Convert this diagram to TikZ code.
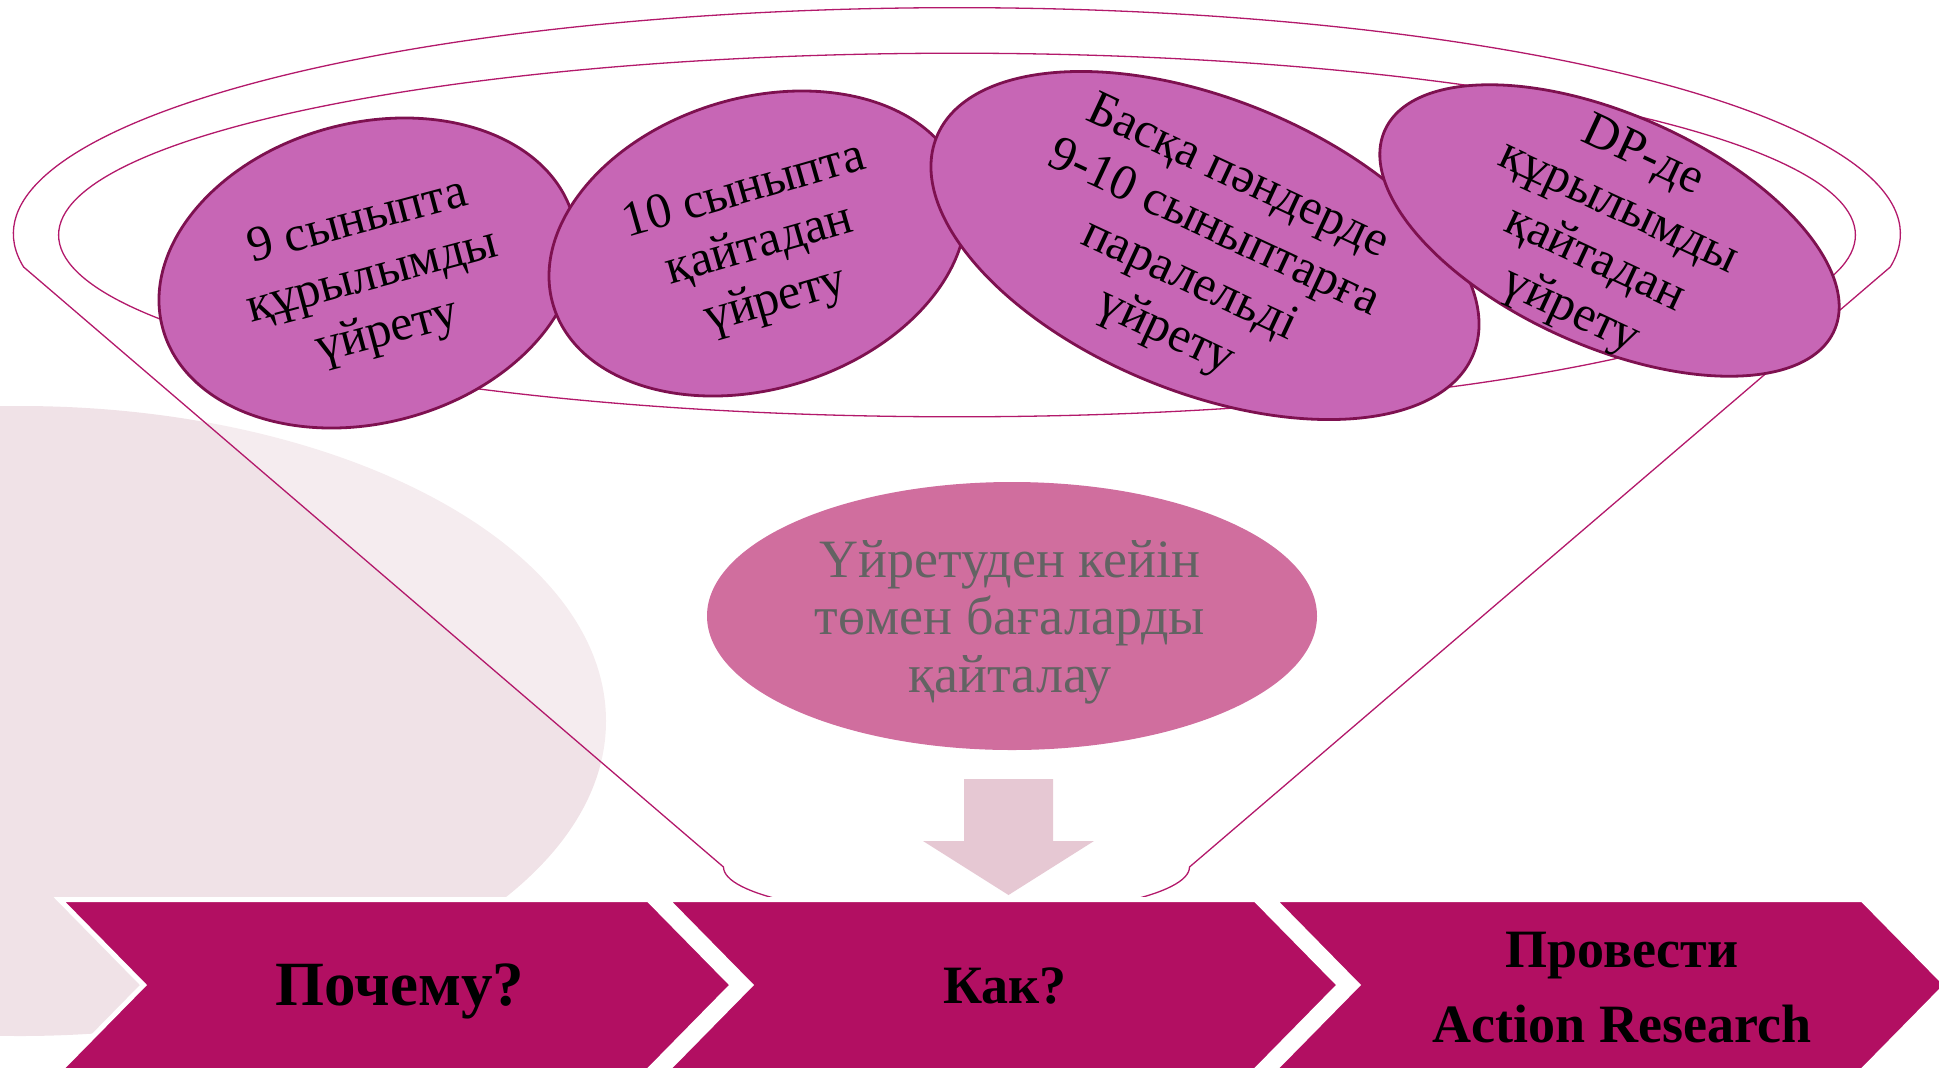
\documentclass[tikz,border=0pt]{standalone}
\usepackage{fontspec}
\setmainfont{Liberation Serif}
\usetikzlibrary{shapes.geometric}

\definecolor{chevpink}{HTML}{B20F62}
\definecolor{funnelred}{HTML}{B3196B}
\definecolor{bubblefill}{HTML}{C766B5}
\definecolor{bubbleedge}{HTML}{7E1150}
\definecolor{centrefill}{HTML}{D06E9E}
\definecolor{centretext}{HTML}{636363}
\definecolor{arrowpink}{HTML}{E6C8D3}
\definecolor{palepink}{HTML}{F0E2E7}

\begin{document}
\begin{tikzpicture}[x=0.5pt, y=-0.5pt,
    funnelline/.style={draw=funnelred, line width=0.65pt},
    bubble/.style={ellipse, draw=bubbleedge, line width=1.4pt, fill=bubblefill, inner sep=0pt},
    bubbletext/.style={align=center, inner sep=0pt, font=\fontsize{25}{28.5}\selectfont},
    chevron/.style={fill=chevpink, draw=white, line width=2.5pt, line join=miter},
    chevtext/.style={align=center, inner sep=0pt, font=\bfseries\fontsize{27}{37.5}\selectfont}]

    \path[use as bounding box] (0,0) rectangle (1939,1067);
    \clip (0,0) rectangle (1939,1067);

    \fill[palepink] (20,721) ellipse [x radius=586, y radius=315];

    \path[funnelline, fill=white, fill opacity=0.35]
        (23.6,267) arc[start angle=171.6, end angle=368.4, x radius=943.5, y radius=226.3]
        -- (1189.5,867) arc[start angle=0, end angle=180, x radius=233, y radius=50]
        -- cycle;
    \draw[funnelline] (957,235) ellipse [x radius=898.4, y radius=181.8];

    \node[bubble, minimum width=212.6pt, minimum height=150pt, rotate=15] (e1) at (368,273) {};
    \node[bubble, minimum width=213.4pt, minimum height=145.5pt, rotate=17] (e2) at (757.5,243.5) {};
    \node[bubble, minimum width=289.5pt, minimum height=146.8pt, rotate=-22] (e3) at (1205,245.5) {};
    \node[bubble, minimum width=246pt, minimum height=116pt, rotate=-24] (e4) at (1609.5,230.5) {};

    \node[bubbletext, rotate=15] (t1) at (373,278) {9 сыныпта\\құрылымды\\үйрету};
    \node[bubbletext, rotate=16] (t2) at (760,247) {10 сыныпта\\қайтадан\\үйрету};
    \node[bubbletext, rotate=-25] (t3) at (1201,256) {Басқа пәндерде\\9-10 сыныптарға\\паралельді\\үйрету};
    \node[bubbletext, rotate=-25] (t4) at (1606,235) {DP-де\\құрылымды\\қайтадан\\үйрету};

    \node[ellipse, fill=centrefill, inner sep=0pt, minimum width=305pt, minimum height=134pt] (revise) at (1012,616) {};
    \node[align=center, inner sep=0pt, text=centretext, font=\fontsize{27}{28.75}\selectfont] (revisetext) at (1010,622)
          {Үйретуден кейін\\төмен бағаларды\\қайталау};

    \fill[arrowpink] (964,779) -- (1053,779) -- (1053,841) -- (1094,841)
        -- (1008.5,895) -- (923,841) -- (964,841) -- cycle;

    \foreach \L in {59.5, 666.5, 1273.5}
        \path[chevron] (\L,899.5) -- ++(589,0) -- ++(84,85.5) -- ++(-84,85.5)
            -- ++(-589,0) -- ++(84,-85.5) -- cycle;

    \node[chevtext, anchor=base, font=\bfseries\fontsize{31.5}{36}\selectfont] (why) at (400,1005) {Почему?};
    \node[chevtext, anchor=base] (how) at (1005,1003) {Как?};
    \node[chevtext] (act) at (1622,988) {Провести\\Action Research};
\end{tikzpicture}
\end{document}
